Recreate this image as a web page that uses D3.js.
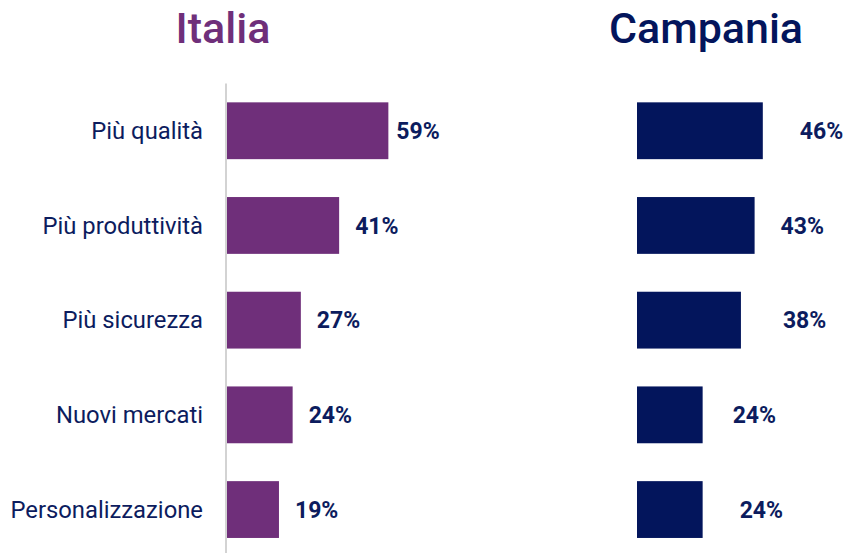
<!DOCTYPE html>
<html>
<head>
<meta charset="utf-8">
<script src="https://cdn.jsdelivr.net/npm/d3@7"></script>
<style>
  body { margin: 0; background: #fff; }
  svg { display: block; font-family: Roboto, "Noto Sans", sans-serif; }
</style>
</head>
<body>
<svg id="chart" width="846" height="553"></svg>
<script>
// data
const categories = ["Più qualità", "Più produttività", "Più sicurezza", "Nuovi mercati", "Personalizzazione"];
const italia = [59, 41, 27, 24, 19];
const campania = [46, 43, 38, 24, 24];
const titles = ["Italia", "Campania"];

// label offsets from bar end (hand placed in the original)
const italiaGap = [8, 16, 16, 16, 16];
const campaniaGap = [37, 26, 42, 30, 37];

const purple = "#6f2f7a";
const navy = "#03155c";
const textNavy = "#0c1c5e";

const svg = d3.select("#chart");

const x = d3.scaleLinear().domain([0, 100]).range([0, 273.5]);
const y = d3.scaleBand()
  .domain(categories)
  .range([83.4, 556.9])
  .paddingInner(0.4)
  .paddingOuter(0.2);

// category labels
svg.append("g")
  .selectAll("text")
  .data(categories)
  .join("text")
  .attr("x", 203)
  .attr("y", d => y(d) + y.bandwidth() / 2)
  .attr("dy", "0.35em")
  .attr("text-anchor", "end")
  .attr("font-size", 23.8)
  .attr("fill", textNavy)
  .text(d => d);

// vertical axis line on the Italia side
svg.append("line")
  .attr("x1", 226).attr("x2", 226)
  .attr("y1", 83.4).attr("y2", 553)
  .attr("stroke", "#d3d3d3")
  .attr("stroke-width", 2);

function panel(values, x0, color, gaps) {
  const g = svg.append("g").attr("transform", `translate(${x0},0)`);
  g.selectAll("rect")
    .data(values)
    .join("rect")
    .attr("x", 0)
    .attr("y", (d, i) => y(categories[i]))
    .attr("width", d => x(d))
    .attr("height", y.bandwidth())
    .attr("fill", color);
  g.selectAll("text")
    .data(values)
    .join("text")
    .attr("x", (d, i) => x(d) + gaps[i])
    .attr("y", (d, i) => y(categories[i]) + y.bandwidth() / 2)
    .attr("dy", "0.35em")
    .attr("font-size", 23)
    .attr("font-weight", "bold")
    .attr("fill", textNavy)
    .text(d => d + "%");
}

panel(italia, 227, purple, italiaGap);
panel(campania, 637, navy, campaniaGap);

// titles
svg.selectAll(".title")
  .data(titles)
  .join("text")
  .attr("class", "title")
  .attr("x", (d, i) => i === 0 ? 223 : 706)
  .attr("y", 43.3)
  .attr("text-anchor", "middle")
  .attr("font-size", 43)
  .attr("font-weight", 500)
  .attr("fill", (d, i) => i === 0 ? purple : navy)
  .text(d => d);
</script>
</body>
</html>
